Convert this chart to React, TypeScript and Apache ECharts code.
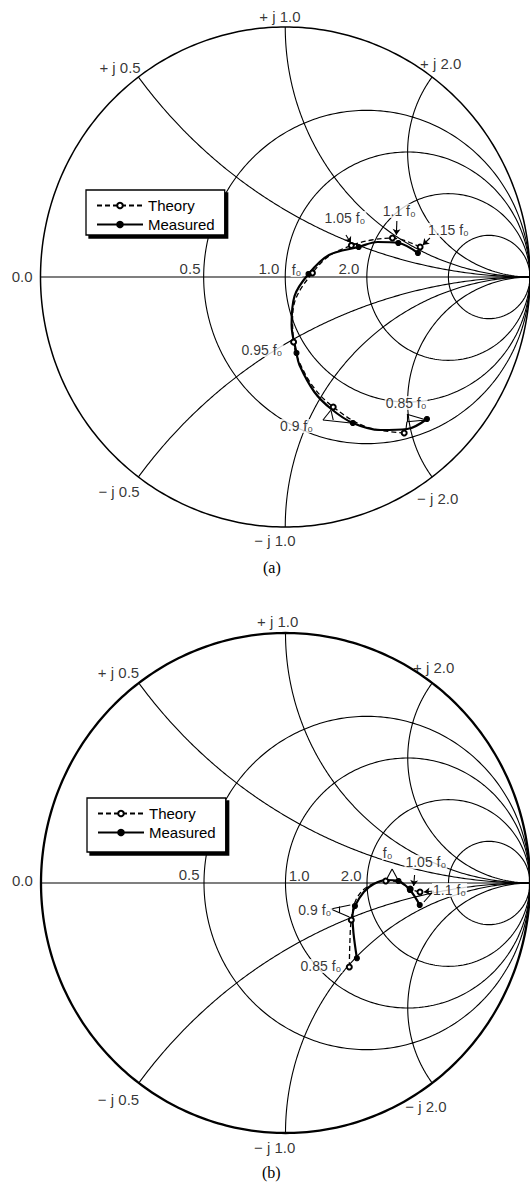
import React, { useEffect, useRef } from "react";
import * as echarts from "echarts";

// Smith chart grid: constant-resistance circles and constant-reactance arcs
const resistanceTicks = [0.5, 1, 2, 5];
const reactanceTicks = [0.5, 1, 2, -0.5, -1, -2];

// Reflection-coefficient loci: [Re Γ, Im Γ, f / f0 (0 = point on the curve only)]
const theoryA: number[][] = [
  [0.486, -0.624, 0.85],
  [0.329, -0.599, 0],
  [0.196, -0.52, 0.9],
  [0.115, -0.44, 0],
  [0.054, -0.332, 0],
  [0.034, -0.26, 0.95],
  [0.03, -0.164, 0],
  [0.046, -0.08, 0],
  [0.111, 0.016, 1.0],
  [0.179, 0.084, 0],
  [0.27, 0.126, 1.05],
  [0.353, 0.148, 0],
  [0.438, 0.156, 1.1],
  [0.551, 0.12, 1.15],
];
const measuredA: number[][] = [
  [0.579, -0.568, 0.85],
  [0.498, -0.608, 0],
  [0.389, -0.612, 0],
  [0.276, -0.584, 0.9],
  [0.188, -0.528, 0],
  [0.119, -0.46, 0],
  [0.058, -0.352, 0],
  [0.046, -0.304, 0.95],
  [0.026, -0.192, 0],
  [0.038, -0.076, 0],
  [0.095, 0.012, 1.0],
  [0.179, 0.088, 0],
  [0.3, 0.12, 1.05],
  [0.377, 0.14, 0],
  [0.462, 0.136, 1.1],
  [0.542, 0.096, 1.15],
];
const theoryB: number[][] = [
  [0.261, -0.336, 0.85],
  [0.263, -0.248, 0],
  [0.269, -0.148, 0.9],
  [0.288, -0.068, 0],
  [0.333, -0.016, 0],
  [0.41, 0.008, 1.0],
  [0.462, 0.004, 0],
  [0.51, -0.024, 1.05],
  [0.55, -0.036, 1.1],
];
const measuredB: number[][] = [
  [0.292, -0.301, 0.85],
  [0.278, -0.2, 0],
  [0.274, -0.128, 0],
  [0.284, -0.092, 0.9],
  [0.321, -0.035, 0],
  [0.361, -0.004, 0],
  [0.41, 0.012, 0],
  [0.462, 0.008, 1.0],
  [0.509, -0.028, 1.05],
  [0.549, -0.088, 1.1],
];

// Chart annotations: [text, Re Γ, Im Γ]
const labelsA: [string, number, number][] = [
  ["+ j 1.0", -0.022, 1.044],
  ["+ j 0.5", -0.675, 0.84],
  ["+ j 2.0", 0.635, 0.856],
  ["0.0", -1.075, 0.004],
  ["0.5", -0.389, 0.036],
  ["1.0", -0.067, 0.036],
  ["2.0", 0.26, 0.036],
  ["f₀", 0.046, 0.028],
  ["1.05 f₀", 0.244, 0.236],
  ["1.1 f₀", 0.466, 0.264],
  ["1.15 f₀", 0.667, 0.188],
  ["0.95 f₀", -0.095, -0.292],
  ["0.9 f₀", 0.046, -0.596],
  ["0.85 f₀", 0.494, -0.504],
  ["− j 0.5", -0.679, -0.856],
  ["− j 1.0", -0.042, -1.052],
  ["− j 2.0", 0.623, -0.884],
];
const labelsB: [string, number, number][] = [
  ["+ j 1.0", -0.032, 1.048],
  ["+ j 0.5", -0.683, 0.844],
  ["+ j 2.0", 0.606, 0.864],
  ["0.0", -1.076, 0.012],
  ["0.5", -0.394, 0.036],
  ["1.0", 0.056, 0.032],
  ["2.0", 0.269, 0.032],
  ["f₀", 0.418, 0.12],
  ["1.05 f₀", 0.574, 0.084],
  ["1.1 f₀", 0.671, -0.028],
  ["0.9 f₀", 0.12, -0.108],
  ["0.85 f₀", 0.145, -0.332],
  ["− j 0.5", -0.683, -0.864],
  ["− j 1.0", -0.044, -1.056],
  ["− j 2.0", 0.574, -0.892],
];

// Leader lines: [x1, y1, x2, y2, arrowhead]
const leadersA: number[][] = [
  [0.248, 0.168, 0.268, 0.136, 1],
  [0.456, 0.224, 0.454, 0.168, 1],
  [0.591, 0.156, 0.562, 0.128, 1],
  [0.154, -0.572, 0.19, -0.528, 0],
  [0.154, -0.572, 0.268, -0.584, 0],
  [0.1875, -0.536, 0.196, -0.572, 0],
  [0.497, -0.549, 0.577, -0.572, 0],
  [0.497, -0.579, 0.577, -0.572, 0],
  [0.497, -0.549, 0.497, -0.579, 0],
  [0.497, -0.579, 0.493, -0.612, 0],
];
const leadersB: number[][] = [
  [0.436, 0.056, 0.414, 0.016, 0],
  [0.436, 0.056, 0.458, 0.016, 0],
  [0.528, 0.032, 0.524, -0.012, 1],
  [0.606, -0.032, 0.566, -0.036, 1],
  [0.606, -0.032, 0.566, -0.076, 0],
  [0.185, -0.104, 0.265, -0.088, 0],
  [0.185, -0.104, 0.261, -0.136, 0],
  [0.221, -0.094, 0.221, -0.12, 0],
];

const SANS = "'Liberation Sans', Arial, sans-serif";
const SERIF = "'Liberation Serif', 'Times New Roman', serif";

// Γ = (z - 1) / (z + 1) for z = r + jx
function gamma(r: number, x: number): number[] {
  const d = (r + 1) * (r + 1) + x * x;
  return [(r * r + x * x - 1) / d, (2 * x) / d];
}

function resistanceCircle(r: number): number[][] {
  const n = 360;
  const pts: number[][] = [[1, 0]];
  for (let i = 1; i < n; i++) {
    const t = -Math.PI / 2 + (Math.PI * i) / n;
    pts.push(gamma(r, Math.tan(t)));
  }
  pts.push([1, 0]);
  return pts;
}

function reactanceArc(x: number): number[][] {
  const n = 240;
  const pts: number[][] = [];
  for (let i = 0; i < n; i++) {
    const t = ((Math.PI / 2) * i) / n;
    pts.push(gamma(Math.tan(t), x));
  }
  pts.push([1, 0]);
  return pts;
}

function smithGrid(idx: number, outerWidth: number) {
  const curves: any[] = [];
  curves.push({ coords: resistanceCircle(0), lineStyle: { width: outerWidth } });
  curves.push({ coords: [[-1, 0], [1, 0]] });
  resistanceTicks.forEach((r) => curves.push({ coords: resistanceCircle(r) }));
  reactanceTicks.forEach((x) => curves.push({ coords: reactanceArc(x) }));
  return {
    type: "lines",
    coordinateSystem: "cartesian2d",
    xAxisIndex: idx,
    yAxisIndex: idx,
    polyline: true,
    silent: true,
    clip: false,
    z: 1,
    lineStyle: { color: "#000", width: 1.1, opacity: 1 },
    data: curves,
  };
}

function traceSeries(idx: number, name: string, pts: number[][], measured: boolean) {
  return {
    name,
    type: "line",
    xAxisIndex: idx,
    yAxisIndex: idx,
    clip: false,
    smooth: 0.35,
    z: 3,
    symbol: measured ? "circle" : "emptyCircle",
    symbolSize: 5,
    lineStyle: { color: "#000", width: measured ? 2.2 : 1.3, type: measured ? "solid" : [5, 3] },
    itemStyle: { color: "#000", borderColor: "#000", borderWidth: 1.1 },
    data: pts.map((p) => ({ value: p, symbol: p[2] ? (measured ? "circle" : "emptyCircle") : "none" })),
  };
}

function annotationSeries(idx: number, labels: [string, number, number][], leaders: number[][]) {
  return {
    type: "scatter",
    xAxisIndex: idx,
    yAxisIndex: idx,
    clip: false,
    silent: true,
    z: 5,
    symbol: "circle",
    symbolSize: 1,
    itemStyle: { color: "rgba(0,0,0,0)" },
    label: {
      show: true,
      position: "inside",
      formatter: (p: any) => p.name,
      color: "#000",
      fontFamily: SANS,
      fontSize: 15,
    },
    data: labels.map(([t, x, y]) => ({
      name: t,
      value: [x, y],
      label: t.includes("f₀")
        ? { backgroundColor: "#fff", padding: [0, 1], fontSize: 14 }
        : {},
    })),
    markLine: {
      silent: true,
      symbolSize: 6,
      label: { show: false },
      lineStyle: { color: "#000", width: 1.1, type: "solid" },
      data: leaders.map(([x1, y1, x2, y2, a]) => [
        { coord: [x1, y1], symbol: "none" },
        { coord: [x2, y2], symbol: a ? "arrow" : "none" },
      ]),
    },
  };
}

function legendAt(left: number, top: number, padBottom: number) {
  return {
    orient: "vertical",
    left,
    top,
    data: ["Theory", "Measured"],
    itemWidth: 46,
    itemHeight: 7,
    itemGap: 4,
    padding: [8, 10, padBottom, 10],
    backgroundColor: "#fff",
    borderColor: "#000",
    borderWidth: 1.3,
    borderRadius: 0,
    shadowColor: "#000",
    shadowBlur: 0,
    shadowOffsetX: 3,
    shadowOffsetY: 3,
    selectedMode: false,
    textStyle: { color: "#000", fontFamily: SANS, fontSize: 15 },
  };
}

export default function App() {
  const ref = useRef<HTMLDivElement>(null);

  useEffect(() => {
    document.body.style.margin = "0";
    if (!ref.current) return;
    const chart = echarts.init(ref.current, undefined, { renderer: "svg" });
    const axis = (i: number) => ({ gridIndex: i, type: "value", min: -1, max: 1, show: false });
    const caption = { fontFamily: SERIF, fontSize: 16, fontWeight: "normal", color: "#000" };
    chart.setOption({
      animation: false,
      backgroundColor: "#fff",
      title: [
        { text: "(a)", left: 263, top: 559, padding: 0, textStyle: caption },
        { text: "(b)", left: 262, top: 1164, padding: 0, textStyle: caption },
      ],
      legend: [legendAt(86, 190, 3), legendAt(87, 798, 12)],
      grid: [
        { left: 40.5, top: 27, width: 496, height: 500 },
        { left: 41, top: 633, width: 498, height: 500 },
      ],
      xAxis: [axis(0), axis(1)],
      yAxis: [axis(0), axis(1)],
      series: [
        smithGrid(0, 1.5),
        smithGrid(1, 2.3),
        traceSeries(0, "Theory", theoryA, false),
        traceSeries(0, "Measured", measuredA, true),
        traceSeries(1, "Theory", theoryB, false),
        traceSeries(1, "Measured", measuredB, true),
        annotationSeries(0, labelsA, leadersA),
        annotationSeries(1, labelsB, leadersB),
      ],
    });
    return () => chart.dispose();
  }, []);

  return <div ref={ref} style={{ width: 530, height: 1184 }} />;
}
